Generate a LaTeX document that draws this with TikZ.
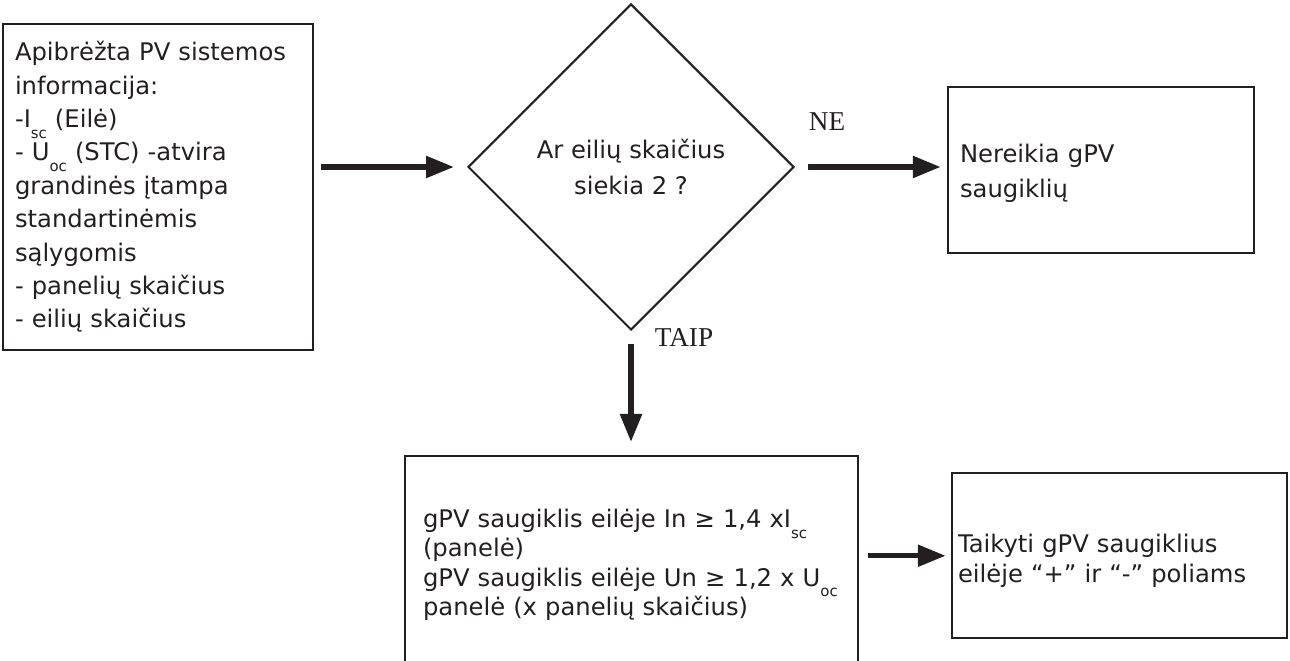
\documentclass[tikz,border=0pt]{standalone}
\usepackage{fontspec}
\setmainfont{DejaVu Sans}
\newfontfamily\tagfont{Liberation Serif}
\usepackage{tikz}
\usetikzlibrary{shapes.geometric,arrows.meta,calc}
\definecolor{ink}{RGB}{35,31,32}
\tikzstyle{box}=[draw=ink, line width=0.05cm, text=ink, align=left, inner ysep=0.12cm]
\tikzstyle{choice}=[diamond, draw=ink, line width=0.04cm, text=ink, align=center, aspect=1, inner sep=0pt, minimum width=6.52cm, minimum height=6.52cm]
\tikzstyle{flow}=[draw=ink, line width=0.11cm, -{Triangle[length=0.56cm,width=0.42cm]}]
\tikzstyle{tag}=[text=ink, font=\tagfont\fontsize{15.5}{18}\selectfont]
\newcommand{\lowsub}[1]{\raisebox{-0.8ex}[0pt][0pt]{\fontsize{8.5}{8.5}\selectfont #1}}

\begin{document}
\begin{tikzpicture}
	\useasboundingbox (0,0) rectangle (25.8,13.22);
	\node[box, text width=5.72cm, inner xsep=0.24cm, minimum height=6.52cm, font=\fontsize{13.8}{19}\selectfont] (info) at (3.16,9.48) {Apibrėžta PV sistemos\\
		informacija:\\
		-I\lowsub{sc} (Eilė)\\
		- U\lowsub{oc} (STC) -atvira\\
		grandinės įtampa\\
		standartinėmis\\
		sąlygomis\\
		- panelių skaičius\\
		- eilių skaičius};
	\node[choice, font=\fontsize{13.8}{20.4}\selectfont] (ask) at (12.62,9.88) {Ar eilių skaičius\\siekia 2 ?};
	\node[box, anchor=north, text width=5.64cm, inner xsep=0.24cm, text height=1.39cm, text depth=1.69cm, font=\fontsize{13.8}{19.8}\selectfont] (skip) at (22.02,11.5) {Nereikia gPV\\saugiklių};
	\node[box, anchor=north, text width=8.34cm, inner xsep=0.36cm, text height=1.31cm, text depth=4cm, font=\fontsize{13.8}{16.6}\selectfont] (fuse) at (12.63,4.12) {gPV saugiklis eilėje In ≥ 1,4 xI\lowsub{sc}\\
		(panelė)\\
		gPV saugiklis eilėje Un ≥ 1,2 x U\lowsub{oc}\\
		panelė (x panelių skaičius)};
	\node[box, anchor=north, text width=6.46cm, inner xsep=0.12cm, text height=1.47cm, text depth=1.59cm, font=\fontsize{13.8}{17}\selectfont] (apply) at (22.39,3.78) {Taikyti gPV saugiklius\\eilėje “+” ir “-” poliams};
	\node[tag] (no) at (16.54,10.78) {NE};
	\node[tag] (yes) at (13.68,6.46) {TAIP};
	\draw[flow, shorten <=0.14cm, shorten >=0.26cm] (info.east |- ask.west) -- (ask.west);
	\draw[flow, shorten <=0.26cm, shorten >=0.12cm] (ask.east) -- (ask.east -| skip.west);
	\draw[flow, shorten <=0.26cm, shorten >=0.26cm] (ask.south) -- (ask.south |- fuse.north);
	\draw[flow, shorten <=0.18cm, shorten >=0.10cm] (fuse.east |- apply.west) -- (apply.west);
\end{tikzpicture}
\end{document}
